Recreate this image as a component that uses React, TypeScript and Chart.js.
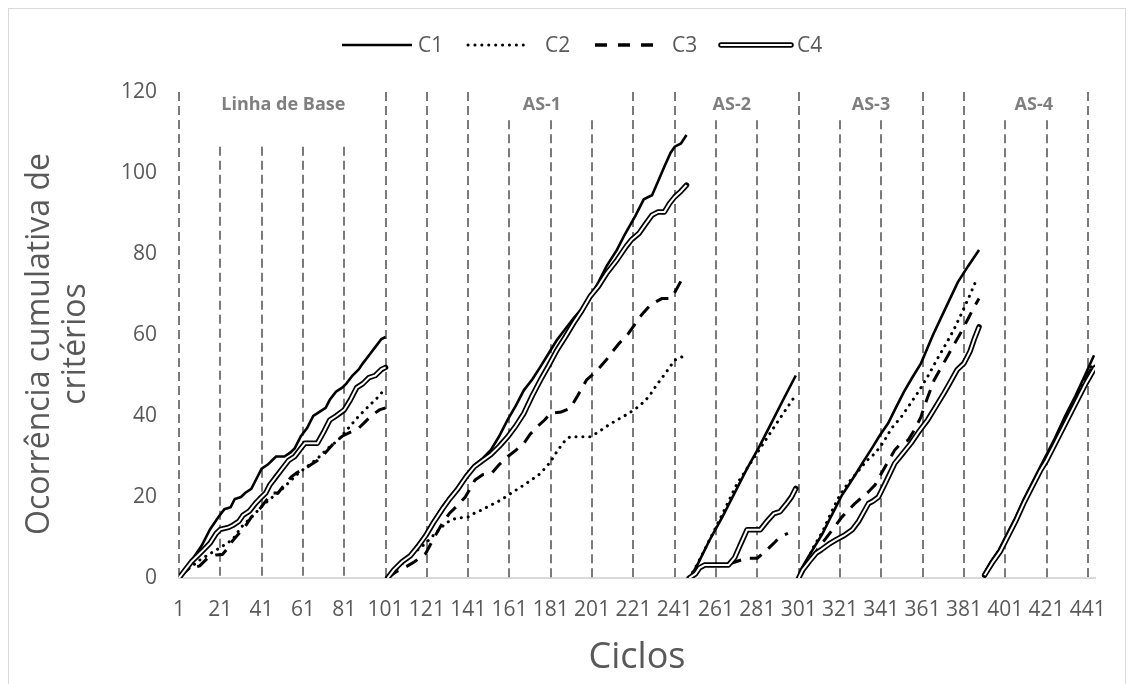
import React, { useEffect, useRef } from "react";
import { Chart, registerables } from "chart.js";

Chart.register(...registerables);

type Pt = [number, number];

const SERIES_NAMES = ["C1", "C2", "C3", "C4"];
const PHASE_NAMES = ["Linha de Base", "AS-1", "AS-2", "AS-3", "AS-4"];
const PHASE_LABEL_CYCLES = [51.5, 176.7, 268.6, 336, 414.8];
const PHASE_LABEL_VALUE = 116.8;
const X_TICKS = [1, 21, 41, 61, 81, 101, 121, 141, 161, 181, 201, 221, 241, 261, 281, 301, 321, 341, 361, 381, 401, 421, 441];
const Y_TICKS = [0, 20, 40, 60, 80, 100, 120];
const GRID_CYCLES = X_TICKS;
const GRID_TOPS = [120, 106.5, 106.5, 106.5, 106.5, 120, 120, 120, 113, 113, 113, 120, 120, 113, 113, 120, 113, 113, 120, 120, 113, 113, 120];
const X_TITLE = "Ciclos";
const Y_TITLE = ["Ocorrência cumulativa de", "critérios"];

// ---- C1 ----
const C1_BASE: Pt[] = [[1,0],[4,2],[8,5],[12,8],[16,12],[20,15],[23,17],[26,17.5],[28,19.5],[31,20],[33,21],[36,22],[39,25],[41,27],[44,28],[46,29],[48,30],[52,30],[55,31],[57,32],[60,35],[63,37],[66,40],[69,41],[72,42],[74,44],[77,46],[80,47],[82,48],[85,50],[88,51.5],[90,53],[93,55],[96,57],[99,59],[101,59.5]];
const C1_AS1: Pt[] = [[102,0],[105,2],[109,4],[113,5.5],[117,8.5],[120.5,11],[124,14],[128.5,17.6],[132,20],[136,22.5],[140,25.5],[144,27.9],[148,29.5],[152,31.6],[156,35],[160,39],[164,42.5],[168,46.4],[172,49],[176,52.2],[180,55.5],[184,58.8],[188,61.5],[192,64.1],[196,66.5],[200,69.5],[204,73],[208,77],[213,81],[217,85],[222,89.5],[226,93.5],[230,94.5],[233,98],[236,101.6],[239,105],[241,106.5],[244,107.3],[246.7,109.4]];
const C1_AS2: Pt[] = [[248,0],[250,1.5],[252.3,3.6],[258,9.5],[264,15],[270,21],[276,27],[282,32.5],[288,38.5],[294,44.5],[299.6,50]];
const C1_AS3: Pt[] = [[300.7,0],[302,2],[306,5.5],[309,8],[312.6,11],[316,14.5],[319,17.5],[322,20.5],[325.3,23],[329,26],[332,28.5],[336.4,32],[340,35],[344.3,38.2],[348,42],[352,46],[356,49.5],[360.2,53],[366,60],[372,66.5],[378,73],[383,77],[388.3,81]];
const C1_AS4: Pt[] = [[390.3,0.7],[394,4],[398,7],[402,11],[406,15],[410,19.5],[414,23.5],[418,27.5],[420.5,30],[425,34.5],[430,40],[435,45],[440,50.5],[444,55]];

// ---- C2 ----
const C2_BASE: Pt[] = [[1,0],[5,2],[11,4.4],[16,6],[21,7.5],[27,9.5],[31,12.5],[36,15],[41,17.6],[45,19.5],[49,21],[54,23.5],[58.6,25.8],[63,27.5],[68,29.5],[73,32],[78,34],[83,37],[87,39.4],[91,41.5],[95,43.5],[98,45],[101,47]];
const C2_AS1: Pt[] = [[102,0],[106,2],[110,4],[114,6],[118,7.5],[122,9.4],[125,11],[128.5,12.7],[131,13.8],[134.8,14.7],[141.2,15.1],[144,16],[147.5,16.8],[152,18],[157,19.3],[162,21],[166.6,22.5],[171,24],[176,25.8],[178,27],[180.9,28.7],[183,30.5],[185.6,32.4],[188,34],[190.4,34.9],[200,34.9],[204,36],[207.8,37.4],[213,39],[218.9,40.7],[224,42.5],[228.5,44.8],[232,47.5],[236.4,50.5],[241,53.8],[244,54.5],[246.7,55]];
const C2_AS2: Pt[] = [[248,0],[251.5,3],[255.4,6.9],[263.4,15.1],[271.3,23.4],[280.8,30.8],[290.3,38.2],[299.6,45.2]];
const C2_AS3: Pt[] = [[301,0],[304,3],[308,7.5],[312.6,11.5],[317,16.5],[321,20.5],[325,23.5],[330,26.5],[334,29],[338,30.8],[342,33.5],[346,37],[350.7,39.8],[355,43],[359,46],[363.4,49.7],[368,54],[372,57.5],[376,61.2],[380,65.5],[384,70],[387,73.6]];
const C2_AS4: Pt[] = [[390.5,0.7],[394,3.8],[398,6.8],[402,10.6],[406,14.6],[410,19],[414,23],[418,27],[421,29.8],[425,34],[430,39.2],[435,44.2],[440,49.5],[444,53.5]];

// ---- C3 ----
const C3_BASE: Pt[] = [[1,0],[5,2],[11,3],[15,5],[19,5.7],[22,5.8],[24,7],[26,8.6],[30,11],[33,12.7],[36,15],[40,17],[43,19],[46,21],[49,21],[52,23],[55.4,25],[58,26],[62,27],[65,28],[68,29],[72,31],[76,33.3],[80,35],[84,36],[88,37],[90,38],[94,40],[98,41.5],[101,42]];
const C3_AS1: Pt[] = [[102,0],[106,1.5],[110,2.5],[115,4],[120.5,6.1],[124,9.5],[128.5,13.5],[132,16],[136,18],[139.6,20],[144.3,24.2],[148,25.5],[152.3,25.8],[156,28],[160.2,30],[164,31.5],[168,33.3],[171,35.5],[174.5,37.4],[178,39],[180.9,40.7],[186,41],[190.4,41.9],[194,45],[198.3,48.9],[203,51],[207.8,53.8],[211,56],[214.2,58],[218,60],[222.1,62.9],[225,65],[228.5,67],[231,68],[234.8,69],[238.8,69],[241,70.5],[244.3,73.6],[246.5,74.5]];
const C3_AS2: Pt[] = [[248,0],[251,1.5],[255,3],[268,3.6],[276,4.9],[281,4.9],[285.5,6.9],[289,8.6],[292,10.2],[295.8,11]];
const C3_AS3: Pt[] = [[301,0],[305,3.5],[311,7.7],[316,11],[322,15.1],[328,18.3],[334.8,21.3],[338,23],[341,25.8],[344,28.5],[347.5,31.6],[350,33],[353.9,34],[357,36.5],[360.2,39.8],[363,44],[366.6,48.9],[370,52],[372.9,54.6],[376,57.5],[379.3,60.4],[383,64],[386,67],[388.3,69]];
const C3_AS4: Pt[] = [[390.5,0.7],[394,3.7],[398,6.7],[402,10.4],[406,14.4],[410,18.8],[414,22.8],[418,26.8],[421,29.5],[425,33.7],[430,39],[435,44],[440,49.2],[444,53]];

// ---- C4 ----
const C4_BASE: Pt[] = [[1,0],[4,2],[7,4],[10,5.5],[13,7],[16,8.6],[19,11],[21,12],[25,12.5],[27,13],[30,14],[32,15.5],[35,16.5],[38,18.4],[40,19.5],[43,21],[45,23],[48,25],[51,27],[54,29],[57,30],[60,32],[62,33.3],[68,33.3],[71,36],[74,39],[77,40],[81,41.5],[84,44],[87,47],[90,48],[93,49.5],[96,50],[99,51.5],[101,52]];
const C4_AS1: Pt[] = [[102,0],[105,2],[109,4],[113,5.5],[117,8],[120.5,10.5],[124,13.5],[128.5,17],[132,19.5],[136,22],[140,25],[144,27.5],[148,29],[152,30.5],[156,32.5],[160.2,34.9],[164,37.5],[168,40.7],[172,45],[176,48.9],[180,52.5],[184,56.3],[188,59.5],[192,62.9],[196,66],[200,69.5],[204,72],[208,75.2],[213,78.5],[217.4,81.8],[220,83.5],[223.7,85.1],[227,87.5],[230,89.6],[233,90.4],[236,90.4],[238.5,92.5],[241,94.1],[244,95.5],[246.7,97]];
const C4_AS2: Pt[] = [[248,0],[251,1],[253,2.5],[255.4,3.2],[267,3.2],[270,5],[273,8.5],[276,11.9],[282.4,11.9],[285.5,13.9],[289,15.9],[292,16.4],[295.2,18.4],[297.5,20],[299.6,22.1]];
const C4_AS3: Pt[] = [[301,0],[303,2],[306,4],[309.4,6.1],[312,7],[316,8.5],[319,9.4],[323,10.5],[326.9,11.9],[330,14],[334.8,18.4],[337,19],[339.6,20],[343,23.5],[347.5,28.3],[351,30.5],[355.4,33.3],[359,36],[363.4,39],[367,42],[371.3,45.6],[374,48],[377.7,51.4],[381,53],[384,56],[386,59],[388.3,62]];
const C4_AS4: Pt[] = [[391,0.7],[395,4],[398.5,6.5],[402,10],[406,14],[410,18.5],[414,22.5],[418,26.5],[421,29],[425,33],[430,38],[435,43],[440,48],[444.5,52]];

const FONT = "'Open Sans', 'DejaVu Sans', sans-serif";
const TEXT_COLOR = "#595959";

function joinPhases(phases: Pt[][]) {
  const out: { x: number; y: number | null }[] = [];
  phases.forEach((p, i) => {
    if (i > 0) out.push({ x: p[0][0] - 0.5, y: null });
    p.forEach(([x, y]) => out.push({ x, y }));
  });
  return out;
}

const overlayPlugin = {
  id: "overlay",
  beforeDatasetsDraw(chart: any) {
    const { ctx, scales } = chart;
    const x = scales.x, y = scales.y;
    ctx.save();
    ctx.strokeStyle = "#7a7a7a";
    ctx.lineWidth = 2;
    ctx.setLineDash([9, 5]);
    GRID_CYCLES.forEach((c, i) => {
      const px = Math.round(x.getPixelForValue(c));
      ctx.beginPath();
      ctx.moveTo(px, y.getPixelForValue(GRID_TOPS[i]));
      ctx.lineTo(px, y.getPixelForValue(0));
      ctx.stroke();
    });
    ctx.restore();
  },
  afterDraw(chart: any) {
    const { ctx, scales, chartArea } = chart;
    const x = scales.x, y = scales.y;
    ctx.save();
    // phase labels
    ctx.fillStyle = "#7f7f7f";
    ctx.font = `bold 18px ${FONT}`;
    ctx.textAlign = "center";
    ctx.textBaseline = "middle";
    PHASE_NAMES.forEach((n, i) => {
      ctx.fillText(n, x.getPixelForValue(PHASE_LABEL_CYCLES[i]), y.getPixelForValue(PHASE_LABEL_VALUE));
    });
    // axis titles
    ctx.fillStyle = TEXT_COLOR;
    ctx.font = `36px ${FONT}`;
    ctx.fillText(X_TITLE, (chartArea.left + chartArea.right) / 2, 649);
    ctx.font = `32px ${FONT}`;
    const cy = 335;
    [31, 67].forEach((cx, i) => {
      ctx.save();
      ctx.translate(cx, cy);
      ctx.rotate(-Math.PI / 2);
      ctx.fillText(Y_TITLE[i], 0, 0);
      ctx.restore();
    });
    // legend
    const ly = 36;
    const items = [
      { x0: 333, x1: 403, tx: 409 },
      { x0: 459, x1: 516, tx: 536 },
      { x0: 586, x1: 645, tx: 663 },
      { x0: 712, x1: 782, tx: 788 },
    ];
    ctx.textAlign = "left";
    ctx.font = `21px ${FONT}`;
    items.forEach((it, i) => {
      ctx.save();
      ctx.strokeStyle = "#000";
      ctx.beginPath();
      ctx.moveTo(it.x0, ly);
      ctx.lineTo(it.x1, ly);
      if (i === 0) { ctx.lineWidth = 2.5; ctx.stroke(); }
      if (i === 1) { ctx.lineWidth = 3; ctx.lineCap = "round"; ctx.setLineDash([0.1, 6.8]); ctx.stroke(); }
      if (i === 2) { ctx.lineWidth = 3.5; ctx.setLineDash([12, 11]); ctx.stroke(); }
      if (i === 3) {
        ctx.lineCap = "round";
        ctx.lineWidth = 5.5; ctx.stroke();
        ctx.strokeStyle = "#fff"; ctx.lineWidth = 2; ctx.stroke();
      }
      ctx.restore();
      ctx.fillStyle = TEXT_COLOR;
      ctx.fillText(SERIES_NAMES[i], it.tx, ly + 1);
    });
    ctx.restore();
  },
};

export default function App() {
  const ref = useRef<HTMLCanvasElement | null>(null);
  useEffect(() => {
    if (!ref.current) return;
    const chart = new Chart(ref.current, {
      type: "line",
      data: {
        datasets: [
          {
            label: "C4-inner",
            data: joinPhases([C4_BASE, C4_AS1, C4_AS2, C4_AS3, C4_AS4]),
            borderColor: "#ffffff",
            borderWidth: 2,
            order: 0,
          },
          {
            label: SERIES_NAMES[3],
            data: joinPhases([C4_BASE, C4_AS1, C4_AS2, C4_AS3, C4_AS4]),
            borderColor: "#000000",
            borderWidth: 5.5,
            borderCapStyle: "round",
            borderJoinStyle: "round",
            order: 1,
          },
          {
            label: SERIES_NAMES[0],
            data: joinPhases([C1_BASE, C1_AS1, C1_AS2, C1_AS3, C1_AS4]),
            borderColor: "#000000",
            borderWidth: 2.6,
            order: 2,
          },
          {
            label: SERIES_NAMES[2],
            data: joinPhases([C3_BASE, C3_AS1, C3_AS2, C3_AS3, C3_AS4]),
            borderColor: "#000000",
            borderWidth: 3,
            borderDash: [13, 9],
            order: 3,
          },
          {
            label: SERIES_NAMES[1],
            data: joinPhases([C2_BASE, C2_AS1, C2_AS2, C2_AS3, C2_AS4]),
            borderColor: "#000000",
            borderWidth: 3,
            borderDash: [0.1, 6.8],
            borderCapStyle: "round",
            order: 4,
          },
        ] as any,
      },
      options: {
        responsive: false,
        animation: false,
        layout: { padding: { top: 83, right: 15, left: 0, bottom: 0 } },
        elements: { point: { radius: 0 }, line: { tension: 0 } },
        plugins: { legend: { display: false }, tooltip: { enabled: false } },
        scales: {
          x: {
            type: "linear",
            min: 1,
            max: 444.5,
            grid: { display: false, drawTicks: false },
            border: { display: true, color: "#d9d9d9", width: 2 },
            ticks: {
              font: { family: FONT, size: 21 },
              color: TEXT_COLOR,
              padding: 19,
              maxRotation: 0,
              autoSkip: false,
              callback: (v: any) => String(v),
            },
            afterBuildTicks: (s: any) => {
              s.ticks = X_TICKS.map((v) => ({ value: v }));
            },
            afterFit: (s: any) => {
              s.height = 106;
            },
          },
          y: {
            type: "linear",
            min: 0,
            max: 120,
            grid: { display: false, drawTicks: false },
            border: { display: false },
            ticks: {
              font: { family: FONT, size: 21 },
              color: TEXT_COLOR,
              padding: 22,
              stepSize: 20,
            },
            afterBuildTicks: (s: any) => {
              s.ticks = Y_TICKS.map((v) => ({ value: v }));
            },
            afterFit: (s: any) => {
              s.width = 170;
            },
          },
        },
      } as any,
      plugins: [overlayPlugin],
    });
    return () => chart.destroy();
  }, []);
  return (
    <div
      style={{
        width: 1116,
        height: 675,
        borderLeft: "1px solid #d9d9d9",
        borderTop: "1px solid #d9d9d9",
        borderRight: "1px solid #d9d9d9",
      }}
    >
      <canvas ref={ref} width={1116} height={675} style={{ display: "block" }} />
    </div>
  );
}
